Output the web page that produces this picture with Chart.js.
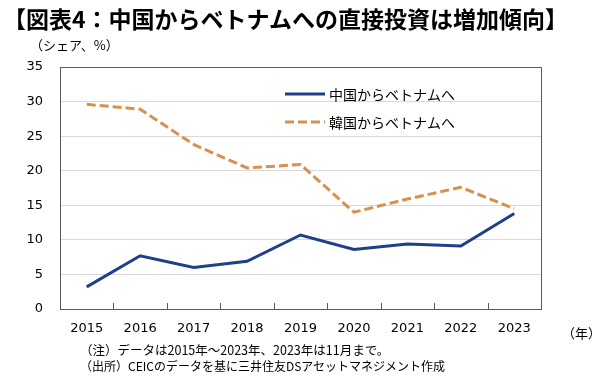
<!DOCTYPE html>
<html><head><meta charset="utf-8">
<script src="https://cdn.jsdelivr.net/npm/chart.js@4"></script>
<style>
html,body{margin:0;padding:0;background:#fff;}
#wrap{position:relative;width:600px;height:383px;overflow:hidden;font-family:"Noto Sans CJK JP","Noto Sans",sans-serif;color:#000;}
#c{position:absolute;left:0;top:0;}
.t{position:absolute;white-space:nowrap;line-height:1;}
#title{left:3px;top:7px;font-size:23px;font-weight:bold;letter-spacing:0;}
#sub{left:30px;top:38px;font-size:13px;}
#unit{left:562px;top:326px;font-size:13px;}
#n1{left:80px;top:344px;font-size:12.5px;}
#n2{left:80px;top:360px;font-size:12px;}
</style></head>
<body><div id="wrap">
<canvas id="c" width="600" height="383"></canvas>
<div class="t" id="title">【図表4：中国からベトナムへの直接投資は増加傾向】</div>
<div class="t" id="sub">（シェア、%）</div>
<div class="t" id="unit">（年）</div>
<div class="t" id="n1">（注）データは2015年～2023年、2023年は11月まで。</div>
<div class="t" id="n2">（出所）CEICのデータを基に三井住友DSアセットマネジメント作成</div>
</div>
<script>
const years = ["2015","2016","2017","2018","2019","2020","2021","2022","2023"];
const chinaLabel = "中国からベトナムへ";
const koreaLabel = "韓国からベトナムへ";
const chinaShare = [3.2, 7.7, 6.0, 6.9, 10.7, 8.6, 9.4, 9.1, 13.8];
const koreaShare = [29.6, 28.9, 23.8, 20.4, 20.9, 14.0, 15.9, 17.6, 14.5];
const yTicks = [0, 5, 10, 15, 20, 25, 30, 35];

const DARK = "#595959";
const GRID = "#d9d9d9";

const framePlugin = {
  id: "frame",
  afterDatasetsDraw(chart) {
    const {ctx, chartArea: a, scales: {x}} = chart;
    ctx.save();
    ctx.strokeStyle = DARK;
    ctx.lineWidth = 1;
    ctx.beginPath();
    ctx.moveTo(a.left, a.top + 0.5);
    ctx.lineTo(a.right + 0.5, a.top + 0.5);
    ctx.lineTo(a.right + 0.5, a.bottom);
    ctx.stroke();
    ctx.beginPath();
    for (let i = 0; i < years.length - 1; i++) {
      const px = Math.round((x.getPixelForValue(i) + x.getPixelForValue(i + 1)) / 2) + 0.5;
      ctx.moveTo(px, a.bottom);
      ctx.lineTo(px, a.bottom - 6);
    }
    ctx.stroke();
    const lx = 285, ly = [94, 122];
    chart.data.datasets.forEach((ds, i) => {
      ctx.strokeStyle = ds.borderColor;
      ctx.lineWidth = ds.borderWidth;
      ctx.setLineDash(ds.borderDash || []);
      ctx.beginPath();
      ctx.moveTo(lx, ly[i]);
      ctx.lineTo(lx + 40, ly[i]);
      ctx.stroke();
      ctx.setLineDash([]);
      ctx.fillStyle = "#000";
      ctx.font = '14px "Noto Sans CJK JP"';
      ctx.textBaseline = "middle";
      ctx.fillText(ds.label, lx + 44, ly[i] + 1);
    });
    ctx.restore();
  }
};

new Chart(document.getElementById("c"), {
  type: "line",
  data: {
    labels: years,
    datasets: [
      {label: chinaLabel, data: chinaShare, borderColor: "#1f3f8a", borderWidth: 3, pointRadius: 0, tension: 0, fill: false},
      {label: koreaLabel, data: koreaShare, borderColor: "#d8904f", borderWidth: 3, borderDash: [9, 4], pointRadius: 0, tension: 0, fill: false}
    ]
  },
  options: {
    responsive: false,
    animation: false,
    devicePixelRatio: 1,
    layout: {padding: {left: 0, right: 59, top: 67, bottom: 44}},
    plugins: {legend: {display: false}, tooltip: {enabled: false}, title: {display: false}},
    scales: {
      x: {
        offset: true,
        grid: {display: true, drawOnChartArea: false, drawTicks: false, offset: true},
        border: {display: true, color: DARK, width: 1},
        ticks: {padding: 12, color: "#000", font: {family: "DejaVu Sans", size: 13}, maxRotation: 0, autoSkip: false},
        afterFit(s) { s.height = 30; }
      },
      y: {
        min: 0, max: 35,
        afterBuildTicks(s) { s.ticks = yTicks.map(v => ({value: v})); },
        grid: {drawTicks: false, color: c => (c.tick && c.tick.value === 35) ? DARK : GRID, lineWidth: 1},
        border: {display: true, color: DARK, width: 1},
        ticks: {padding: 17, color: "#000", font: {family: "DejaVu Sans", size: 13}},
        afterFit(s) { s.width = 60; }
      }
    }
  },
  plugins: [framePlugin]
});
</script>
</body></html>
